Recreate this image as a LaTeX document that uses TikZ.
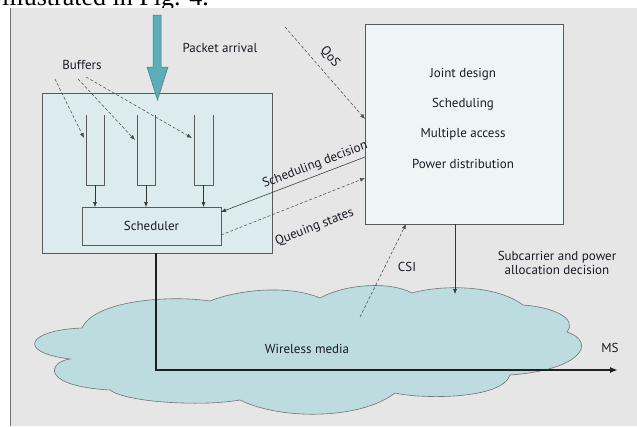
\documentclass[tikz,border=0pt]{standalone}
\usepackage{fontspec}
\setmainfont{PT Sans}
\newfontfamily\serifcut{Liberation Serif}
\usetikzlibrary{arrows.meta}
\definecolor{bg}{HTML}{E6E6E6}
\definecolor{lboxfill}{HTML}{DCEBED}
\definecolor{rboxfill}{HTML}{EEF5F7}
\definecolor{cloudfill}{HTML}{BCDCE0}
\definecolor{tealarrow}{HTML}{5BAEB7}
\definecolor{edgegray}{HTML}{5A5A5A}
\definecolor{txt}{HTML}{1A1A26}
\begin{document}
\begin{tikzpicture}[x=1pt,y=-1pt,
  font=\fontsize{13}{15}\selectfont,
  boxnode/.style={draw=edgegray, line width=0.7pt, inner sep=0pt, outer sep=0pt},
  lbl/.style={inner sep=1pt, text=txt},
  tipped/.style={-{Latex[length=5pt,width=4pt]}},
  thinline/.style={line width=0.55pt, draw=black!80},
  dsh/.style={dash pattern=on 3pt off 2pt, line width=0.55pt, draw=black!70},
  tube/.style={line width=0.6pt, draw=edgegray}]
\useasboundingbox (0,0) rectangle (637,426);
\clip (0,0) rectangle (637,426);
% page background and cut-off caption line
\fill[white] (0,0) rectangle (637,426);
\node[anchor=base west, inner sep=0pt, font=\serifcut\fontsize{26}{30}\selectfont] (cap) at (2,5) {illustrated in Fig. 4.};
\fill[bg] (10,8) rectangle (637,426);
\draw[line width=1pt, draw=black!55] (10.5,8) -- (10.5,426);

% cloud (wireless media)
\draw[fill=cloudfill, draw=black!55, line width=0.6pt]
  (82,328) .. controls (95,300) and (170,295) .. (210,301)
  .. controls (240,289) and (290,285) .. (320,298)
  .. controls (345,284) and (390,281) .. (412,293)
  .. controls (440,285) and (495,284) .. (523,305)
  .. controls (552,307) and (578,318) .. (567,332)
  .. controls (597,342) and (582,370) .. (510,375)
  .. controls (502,400) and (420,399) .. (395,393)
  .. controls (360,420) and (280,420) .. (240,400)
  .. controls (200,407) and (125,402) .. (110,390)
  .. controls (40,386) and (48,362) .. (70,359)
  .. controls (15,352) and (28,330) .. (82,328) -- cycle;

% boxes
\node[boxnode, fill=lboxfill, minimum width=230pt, minimum height=160pt] (lbox) at (157,173) {};
\node[boxnode, fill=rboxfill, minimum width=198pt, minimum height=200pt] (rbox) at (464,124) {};
\node[boxnode, fill=lboxfill, minimum width=139pt, minimum height=38pt] (sched) at (151.5,226) {};
\node[lbl] at (sched.center) {Scheduler};

% right box texts
\node[lbl] (t1) at (463,74) {Joint design};
\node[lbl] (t2) at (463,104) {Scheduling};
\node[lbl] (t3) at (463,134) {Multiple access};
\node[lbl] (t4) at (463,164) {Power distribution};

% buffers (open-top tubes)
\draw[tube] (86,115) -- (86,185) -- (104,185) -- (104,115);
\draw[tube] (137,115) -- (137,185) -- (155,185) -- (155,115);
\draw[tube] (194,115) -- (194,185) -- (213,185) -- (213,115);
\coordinate (b1) at (95,185);
\coordinate (b2) at (146,185);
\coordinate (b3) at (203.5,185);
\draw[thinline, tipped] (b1) -- (b1 |- sched.north);
\draw[thinline, tipped] (b2) -- (b2 |- sched.north);
\draw[thinline, tipped] (b3) -- (b3 |- sched.north);

% packet arrival arrow
\draw[fill=tealarrow, draw=tealarrow!70!black, line width=0.5pt]
  (153,15) -- (161,15) -- (161,67) -- (168,67) -- (157.5,100) -- (147,67) -- (153,67) -- cycle;
\node[lbl] (pa) at (220,48) {Packet arrival};

% buffers label and dashed pointers
\node[lbl] (buf) at (82,65) {Buffers};
\coordinate (bs1) at (55,79);
\coordinate (bs2) at (78,79);
\coordinate (bs3) at (86,77);
\coordinate (be1) at (84,138);
\coordinate (be2) at (135,140);
\coordinate (be3) at (192,138);
\draw[dsh, tipped] (bs1) -- (be1);
\draw[dsh, tipped] (bs2) -- (be2);
\draw[dsh, tipped] (bs3) -- (be3);

% QoS
\coordinate (qs) at (285,27);
\coordinate (qe) at (rbox.west |- 0,119);
\draw[dsh, tipped] (qs) -- (qe);
\node[lbl, rotate=-50] (qosl) at (330,57) {QoS};

% scheduling decision
\coordinate (sd1) at (sched.east |- 0,212);
\coordinate (sd2) at (rbox.west |- 0,157);
\draw[thinline, {Latex[length=5pt,width=4pt]}-] (sd1) -- (sd2)
  node[lbl, pos=0.68, sloped, above=3pt] {Scheduling decision};

% queuing states
\coordinate (qs1) at (sched.east |- 0,235);
\coordinate (qs2) at (rbox.west |- 0,178);
\draw[dsh, tipped] (qs1) -- (qs2)
  node[lbl, pos=0.58, sloped, below=20pt] {Queuing states};

% CSI
\coordinate (csi0) at (360,317);
\coordinate (csi1) at (406,224);
\draw[dsh, tipped] (csi0) -- (csi1);
\node[lbl] (csil) at (407,267) {CSI};

% subcarrier decision
\coordinate (sc) at (455,294);
\draw[thinline, tipped] (sc |- rbox.south) -- (sc);
\node[lbl, align=center, font=\fontsize{13}{14.5}\selectfont] (scl) at (557,263) {Subcarrier and power\\allocation decision};

% data path
\coordinate (corner) at (156,370);
\coordinate (ms) at (618,370);
\draw[line width=2.4pt, draw=black!88, -{Latex[length=8pt,width=6pt]}] (corner |- lbox.south) -- (corner) -- (ms);
\node[lbl] (msl) at (610,348) {MS};
\node[lbl] (wm) at (307,349) {Wireless media};
\end{tikzpicture}
\end{document}
